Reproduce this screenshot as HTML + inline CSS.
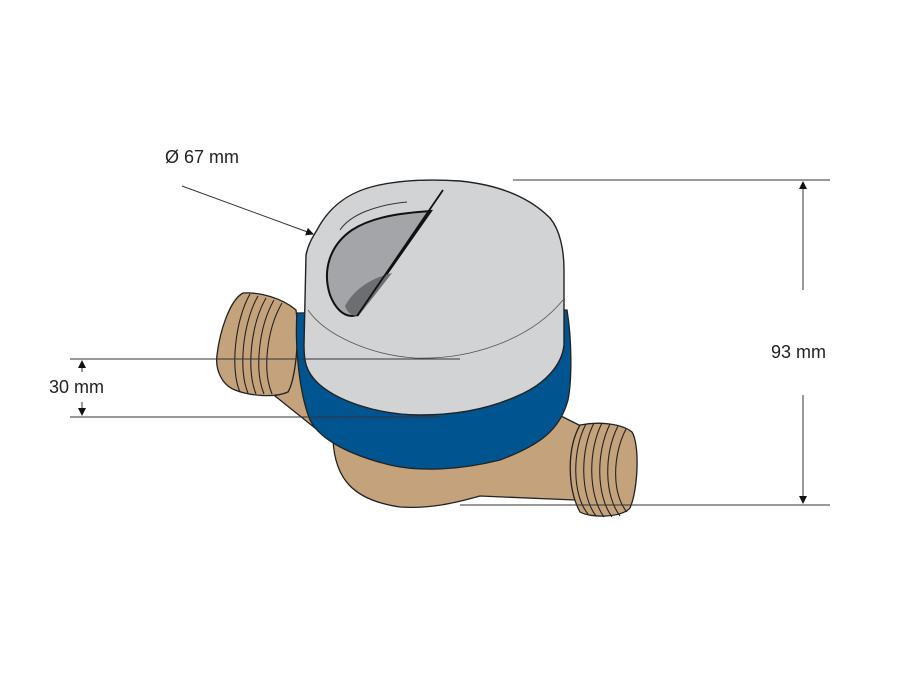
<!DOCTYPE html>
<html><head><style>
html,body{margin:0;padding:0;background:#fff;width:900px;height:675px;overflow:hidden}
svg{display:block}
text{font-family:"Liberation Sans",sans-serif;font-size:18px;fill:#222}
</style></head><body>
<svg width="900" height="675" viewBox="0 0 900 675" xmlns="http://www.w3.org/2000/svg">
<defs>
<marker id="ah" markerWidth="8" markerHeight="8" refX="7" refY="4" orient="auto" markerUnits="userSpaceOnUse"><path d="M0,0 L8,4 L0,8 Z" fill="#111"/></marker>
</defs>
<!-- brass body -->
<path d="M333,440 C335,478 352,500 400,507 C430,509 455,503 480,496 L575,500 L585,428 L553,412 L540,430 Z" fill="#c4a27c" stroke="#222" stroke-width="1.3"/>
<!-- right fitting -->
<path d="M580,425 C600,421 622,424 632,432 C640,445 638,490 630,508 C622,518 590,518 580,512 C568,490 566,450 580,425 Z" fill="#c4a27c" stroke="#222" stroke-width="1.3"/>
<g fill="none" stroke="#222" stroke-width="1.1">
<path d="M586,424 C572,450 572,495 588,514"/>
<path d="M594,423 C580,450 580,495 596,516"/>
<path d="M602,423 C588,450 588,495 604,517"/>
<path d="M610,424 C596,452 596,495 612,517"/>
<path d="M618,426 C604,454 604,495 620,516"/>
<path d="M626,429 C612,456 612,495 627,512"/>
</g>
<!-- left pipe & fitting -->
<path d="M285,312 L305,318 L320,432 L270,392 Z" fill="#c4a27c" stroke="#222" stroke-width="1.3"/>
<path d="M243,293 C260,292 282,298 296,310 C300,340 295,380 288,392 C275,398 250,396 235,390 C222,385 215,370 217,355 C220,330 230,300 243,293 Z" fill="#c4a27c" stroke="#222" stroke-width="1.3"/>
<g fill="none" stroke="#222" stroke-width="1.1">
<path d="M250,294 C235,320 230,370 240,392"/>
<path d="M258,296 C243,322 238,370 248,393"/>
<path d="M266,298 C251,324 246,370 256,394"/>
<path d="M274,300 C259,326 254,370 264,394"/>
<path d="M282,303 C267,329 262,370 272,394"/>
</g>
<!-- blue band -->
<path d="M297,313 L567,310 C572,340 572,380 568,400 C560,430 540,445 500,460 C460,470 420,472 390,465 C350,455 320,440 310,420 C298,390 295,340 297,313 Z" fill="#00548f" stroke="#222" stroke-width="1.3"/>
<!-- cap -->
<path d="M317,230 C330,205 350,192 375,186 C400,180 430,179 460,181 C500,185 530,198 550,218 C560,230 564,250 564,270 L564,345 C562,365 545,385 515,397 C490,408 460,415 420,415 C380,415 340,402 320,385 C305,372 304,360 304,345 L306,255 C308,245 312,238 317,230 Z" fill="#d2d3d5" stroke="#222" stroke-width="1.4"/>
<path d="M308,310 C325,335 370,355 415,358 C470,360 530,340 563,300" fill="none" stroke="#555" stroke-width="0.8"/>
<!-- window -->
<path d="M431,211 C400,213 372,217 352,230 C330,245 322,270 330,295 C335,308 343,316 352,316 L358,315 Z" fill="#a4a5a8" stroke="#111" stroke-width="2"/>
<path d="M345,306 C355,288 372,278 392,273 L360,314 C354,318 348,314 345,306 Z" fill="#6d6e71"/>
<path d="M443,190 L357,316" stroke="#111" stroke-width="1.8"/>
<path d="M407,202 C375,205 350,215 340,230" fill="none" stroke="#333" stroke-width="1"/>
<!-- dimension lines -->
<g stroke="#333" stroke-width="1" fill="none">
<line x1="513" y1="180" x2="830" y2="180"/>
<line x1="460" y1="505" x2="830" y2="505"/>
<line x1="803" y1="290" x2="803" y2="182" marker-end="url(#ah)"/>
<line x1="803" y1="395" x2="803" y2="503" marker-end="url(#ah)"/>
<line x1="70" y1="359" x2="460" y2="359"/>
<line x1="70" y1="417" x2="440" y2="417"/>
<line x1="82" y1="372" x2="82" y2="361" marker-end="url(#ah)"/>
<line x1="82" y1="402" x2="82" y2="415" marker-end="url(#ah)"/>
<line x1="182" y1="186" x2="313" y2="234" marker-end="url(#ah)"/>
</g>
<text x="165" y="163">Ø 67 mm</text>
<text x="49" y="393">30 mm</text>
<text x="771" y="358">93 mm</text>
</svg>
</body></html>
